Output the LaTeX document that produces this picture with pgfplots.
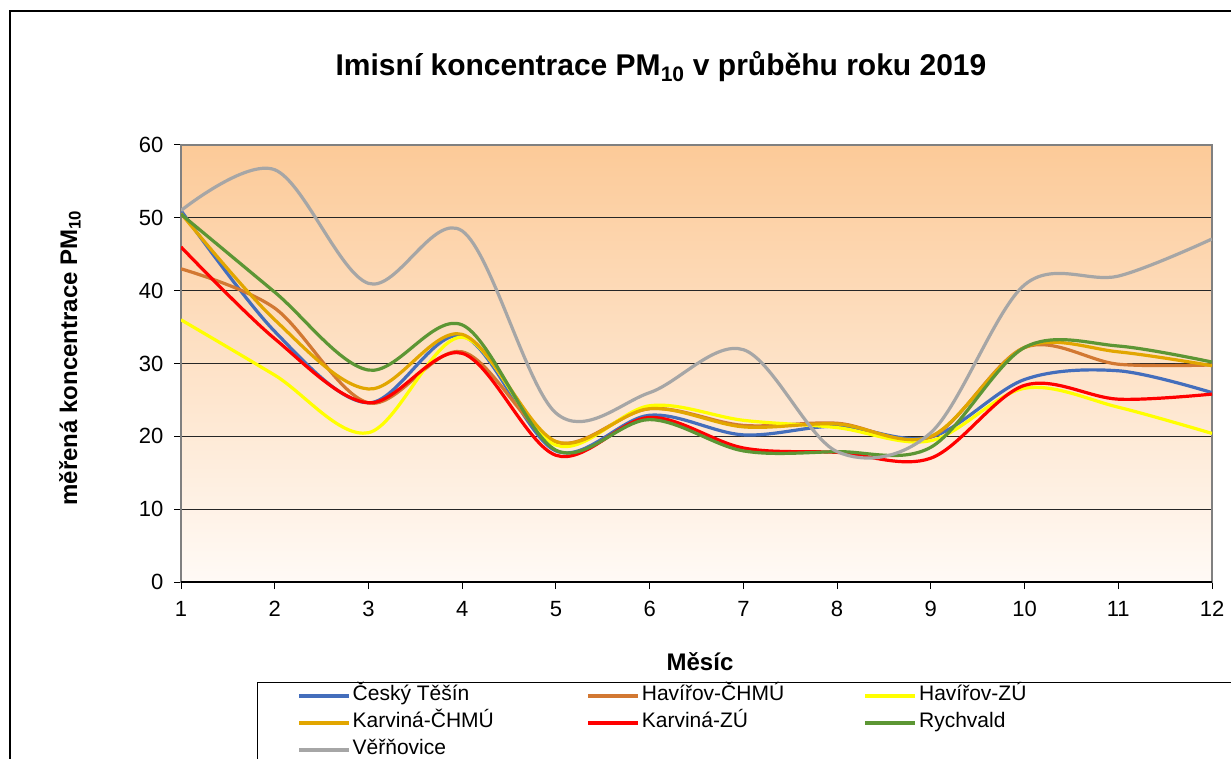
\documentclass[border=0pt]{standalone}
\usepackage{pgfplots}
\pgfplotsset{compat=1.18}
\usepackage{fontspec}
\setmainfont{Liberation Sans}
\definecolor{cTesin}{RGB}{68,110,188}
\definecolor{cHavCH}{RGB}{210,120,50}
\definecolor{cHavZU}{RGB}{255,255,0}
\definecolor{cKarCH}{RGB}{226,166,0}
\definecolor{cKarZU}{RGB}{255,0,0}
\definecolor{cRych}{RGB}{92,150,52}
\definecolor{cVer}{RGB}{166,166,166}
\definecolor{bgTop}{RGB}{252,202,152}
\definecolor{bgBot}{RGB}{255,250,246}
\begin{document}
\begin{tikzpicture}[x=1pt,y=1pt]
\useasboundingbox (0,0) rectangle (1231,758);
\fill[white] (0,0) rectangle (1231,758);
\draw[line width=1.3pt] (10,-20) -- (10,747) -- (1260,747);
\node[font=\bfseries\fontsize{30}{34}\selectfont] at (661,691) {Imisní koncentrace PM\textsubscript{10} v průběhu roku 2019};
\node[font=\bfseries\fontsize{24}{28}\selectfont, rotate=90] at (70,400) {měřená koncentrace PM\textsubscript{10}};
\node[font=\bfseries\fontsize{24}{28}\selectfont] at (700,96) {Měsíc};
\begin{axis}[
  at={(181pt,176pt)}, anchor=south west,
  scale only axis, width=1031pt, height=437pt,
  xmin=1, xmax=12, ymin=0, ymax=60,
  xtick={1,2,...,12}, ytick={0,10,...,60},
  ymajorgrids, grid style={black!85, line width=1pt},
  axis line style={draw=gray, line width=1.6pt},
  tick align=outside, xtick pos=bottom, ytick pos=left,
  major tick length=7pt, tick style={black, line width=1pt},
  ticklabel style={font=\fontsize{22}{26}\selectfont},
  yticklabel style={xshift=-7pt},
  xticklabel style={yshift=-9pt},
  /pgf/number format/assume math mode=true,
  axis background/.style={top color=bgTop, bottom color=bgBot},
  every axis plot/.append style={line width=3.2pt, smooth, tension=0.55, no markers},
  legend columns=3,
  legend cell align=left,
  legend style={at={(0.0737,-0.2288)}, anchor=north west, draw=black, line width=1pt,
    inner xsep=40pt, inner ysep=0pt, font=\fontsize{21}{25}\selectfont,
    nodes={text height=15pt, text depth=5pt, inner ysep=3.5pt}},
  legend image code/.code={\draw[#1] (0pt,0pt) -- (50pt,0pt);},
]
\addplot[cTesin] coordinates {(1,51) (2,34.4) (3,24.6) (4,33.8) (5,18.0) (6,22.9) (7,20.2) (8,21.4) (9,19.9) (10,27.8) (11,29.0) (12,26.0)};
\addlegendentry{\makebox[232pt][l]{Český Těšín}}
\addplot[cHavCH] coordinates {(1,43) (2,37.6) (3,24.6) (4,31.6) (5,19.2) (6,23.8) (7,21.5) (8,21.8) (9,19.9) (10,32.2) (11,29.9) (12,29.8)};
\addlegendentry{\makebox[220pt][l]{Havířov-ČHMÚ}}
\addplot[cHavZU] coordinates {(1,36) (2,28.4) (3,20.5) (4,33.6) (5,18.8) (6,24.2) (7,22.2) (8,21.2) (9,19.4) (10,26.6) (11,24.0) (12,20.4)};
\addlegendentry{\makebox[300pt][l]{Havířov-ZÚ}}
\addplot[cKarCH] coordinates {(1,50.6) (2,36.0) (3,26.5) (4,34.0) (5,19.3) (6,23.8) (7,21.3) (8,21.7) (9,20.0) (10,32.2) (11,31.6) (12,29.7)};
\addlegendentry{\makebox[232pt][l]{Karviná-ČHMÚ}}
\addplot[cKarZU] coordinates {(1,46) (2,33.4) (3,24.6) (4,31.4) (5,17.4) (6,22.6) (7,18.4) (8,17.8) (9,17.0) (10,27.0) (11,25.1) (12,25.8)};
\addlegendentry{\makebox[220pt][l]{Karviná-ZÚ}}
\addplot[cRych] coordinates {(1,50.5) (2,39.8) (3,29.1) (4,35.3) (5,18.1) (6,22.3) (7,18.0) (8,17.9) (9,18.5) (10,32.2) (11,32.4) (12,30.2)};
\addlegendentry{Rychvald}
\addplot[cVer] coordinates {(1,51) (2,56.6) (3,41) (4,48.2) (5,23.2) (6,26.0) (7,31.9) (8,17.9) (9,20.5) (10,40.8) (11,42.0) (12,47.1)};
\addlegendentry{Věřňovice}
\draw[black, line width=1.4pt] (rel axis cs:0,0) -- (rel axis cs:1,0);
\end{axis}
\end{tikzpicture}
\end{document}
